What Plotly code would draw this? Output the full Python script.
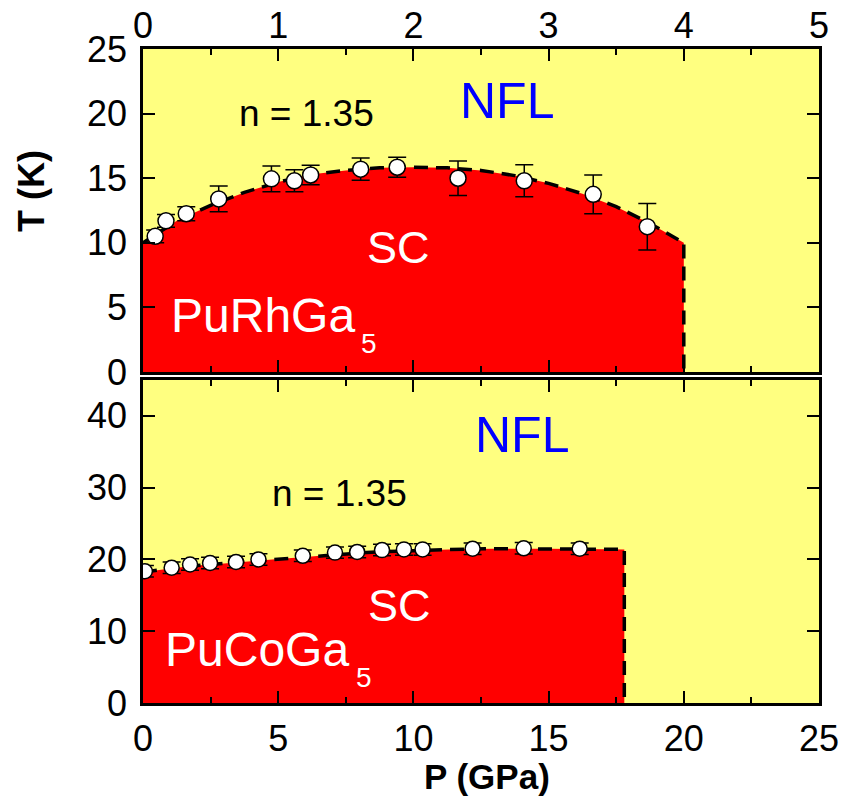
import plotly.graph_objects as go

# ---------------- data ----------------
# PuRhGa5 (top panel, pressure on top axis 0-5 GPa)
p_rh = [0.09, 0.17, 0.32, 0.56, 0.95, 1.12, 1.24, 1.61, 1.88, 2.33, 2.82, 3.33, 3.73]
t_rh = [10.5, 11.7, 12.25, 13.4, 14.95, 14.8, 15.25, 15.7, 15.85, 15.0, 14.8, 13.75, 11.25]
e_rh = [0.5, 0.5, 0.55, 1.0, 1.0, 0.85, 0.75, 0.86, 0.77, 1.34, 1.24, 1.5, 1.8]

# SC boundary PuRhGa5
bp_rh = [0.0, 0.25, 0.5, 0.75, 1.0, 1.25, 1.5, 1.75, 2.0, 2.25, 2.5, 2.75, 3.0, 3.25, 3.5, 3.75, 4.0]
bt_rh = [10.0, 11.7, 12.9, 13.9, 14.7, 15.3, 15.6, 15.8, 15.85, 15.8, 15.6, 15.2, 14.6, 13.8, 12.8, 11.5, 10.0]

# PuCoGa5 (bottom panel, pressure on bottom axis 0-25 GPa)
p_co = [0.07, 1.06, 1.74, 2.48, 3.44, 4.27, 5.91, 7.10, 7.92, 8.84, 9.65, 10.34, 12.19, 14.08, 16.15]
t_co = [18.35, 18.85, 19.3, 19.5, 19.65, 20.0, 20.5, 20.95, 21.05, 21.3, 21.4, 21.4, 21.5, 21.55, 21.5]
e_co = [0.8, 0.8, 0.8, 0.8, 0.8, 0.8, 0.8, 0.8, 0.8, 0.8, 0.8, 0.8, 0.8, 0.8, 0.8]

# SC boundary PuCoGa5
bp_co = [0.0, 1, 2, 3, 4, 5, 6, 7, 8, 9, 10, 11, 12, 13, 14, 15, 16, 17, 17.8]
bt_co = [18.2, 18.75, 19.15, 19.45, 19.75, 20.05, 20.35, 20.65, 20.9, 21.1, 21.25, 21.35, 21.45, 21.5, 21.5, 21.5, 21.45, 21.42, 21.4]

top_ticks = [0, 1, 2, 3, 4, 5]
bot_ticks = [0, 5, 10, 15, 20, 25]

FONT = "Liberation Sans, Arial, sans-serif"
RED = "#FF0000"
YELLOW = "#FFFF80"
DASH = "14px,8px"

fig = go.Figure()

# ---- top panel ----
p_end_rh = bp_rh[-1]
fig.add_trace(go.Scatter(x=bp_rh + [p_end_rh, bp_rh[0]], y=bt_rh + [0, 0],
                         fill="toself", fillcolor=RED, mode="none",
                         xaxis="x2", yaxis="y2", hoverinfo="skip"))
fig.add_trace(go.Scatter(x=bp_rh + [p_end_rh], y=bt_rh + [0], mode="lines",
                         line=dict(color="black", width=3.5, dash=DASH),
                         xaxis="x2", yaxis="y2"))
fig.add_trace(go.Scatter(x=p_rh, y=t_rh, mode="markers",
                         marker=dict(symbol="circle", size=16, color="white",
                                     line=dict(color="black", width=1.5)),
                         error_y=dict(type="data", array=e_rh, visible=True,
                                      color="black", thickness=1.5, width=9),
                         xaxis="x2", yaxis="y2"))

# ---- bottom panel ----
p_end_co = bp_co[-1]
fig.add_trace(go.Scatter(x=bp_co + [p_end_co, bp_co[0]], y=bt_co + [0, 0],
                         fill="toself", fillcolor=RED, mode="none",
                         xaxis="x", yaxis="y", hoverinfo="skip"))
fig.add_trace(go.Scatter(x=bp_co + [p_end_co], y=bt_co + [0], mode="lines",
                         line=dict(color="black", width=3.5, dash=DASH),
                         xaxis="x", yaxis="y"))
fig.add_trace(go.Scatter(x=p_co, y=t_co, mode="markers",
                         marker=dict(symbol="circle", size=15, color="white",
                                     line=dict(color="black", width=1.5)),
                         error_y=dict(type="data", array=e_co, visible=True,
                                      color="black", thickness=1.5, width=9),
                         xaxis="x", yaxis="y"))

axis_common = dict(showgrid=False, zeroline=False, showline=True, linecolor="black",
                   linewidth=2.5, mirror="ticks", ticks="inside", ticklen=12,
                   tickwidth=2, tickcolor="black", automargin=False,
                   tickfont=dict(family=FONT, size=36, color="black"))

# page body adds an 8px offset, so the figure is 8px smaller on each side
fig.update_layout(
    width=843, height=788,
    margin=dict(l=135, r=32, t=41, b=93),
    paper_bgcolor="white", plot_bgcolor=YELLOW,
    showlegend=False,
    font=dict(family=FONT, color="black"),
    xaxis=dict(domain=[0, 1], range=[0, 25], anchor="y", side="bottom",
               tickvals=bot_ticks, ticklabelstandoff=2,
               minor=dict(dtick=2.5, ticklen=6, ticks="inside", tickwidth=2, tickcolor="black"),
               **axis_common),
    yaxis=dict(domain=[0, 0.4939], range=[0, 45], dtick=10, anchor="x",
               ticklabelstandoff=6, **axis_common),
    xaxis2=dict(domain=[0, 1], range=[0, 5], anchor="y2", side="top",
                tickvals=top_ticks, ticklabelstandoff=-6,
                minor=dict(dtick=0.5, ticklen=6, ticks="inside", tickwidth=2, tickcolor="black"),
                **axis_common),
    yaxis2=dict(domain=[0.5061, 1], range=[0, 25], dtick=5, anchor="x2",
                ticklabelstandoff=6, **axis_common),
)

def ann(text, x, y, xref, yref, size, color, xanchor="center", bold=False, angle=0):
    fig.add_annotation(text=(f"<b>{text}</b>" if bold else text), x=x, y=y, xref=xref, yref=yref,
                       showarrow=False, xanchor=xanchor, yanchor="middle", textangle=angle,
                       font=dict(family=FONT, size=size, color=color))

# top panel labels
ann("n = 1.35", 1.21, 20.0, "x2", "y2", 37, "black")
ann("NFL", 2.69, 21.0, "x2", "y2", 50, "#0000FF")
ann("SC", 1.89, 9.65, "x2", "y2", 45, "white")
ann("PuRhGa", 0.19, 4.36, "x2", "y2", 48, "white", xanchor="left")
ann("5", 1.669, 2.2, "x2", "y2", 28, "white")

# bottom panel labels
ann("n = 1.35", 7.25, 29.2, "x", "y", 37, "black")
ann("NFL", 14.0, 37.4, "x", "y", 50, "#0000FF")
ann("SC", 9.5, 13.6, "x", "y", 45, "white")
ann("PuCoGa", 0.75, 7.43, "x", "y", 48, "white", xanchor="left")
ann("5", 8.17, 3.6, "x", "y", 28, "white")

# axis titles
ann("T (K)", -0.164, 0.783, "paper", "paper", 36, "black", bold=True, angle=-90)
ann("P (GPa)", 0.509, -0.112, "paper", "paper", 35, "black", bold=True)

fig.write_html("out.html")
